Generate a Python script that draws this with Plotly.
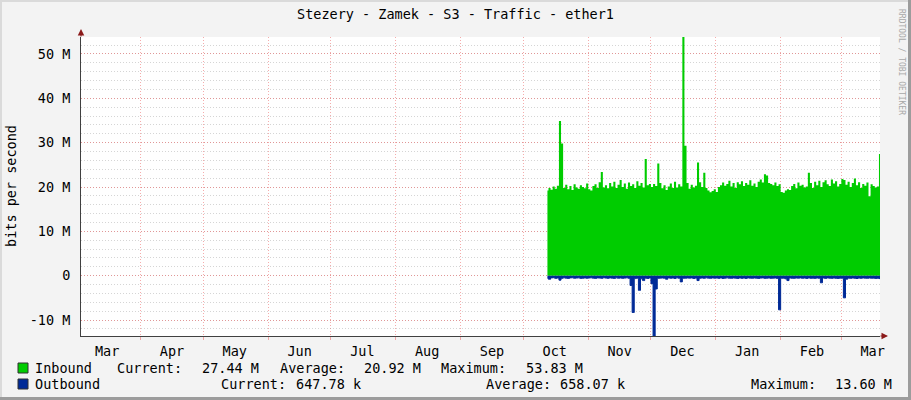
import plotly.graph_objects as go
import pandas as pd

# ---------------- data (values in Mbit/s, one per day from 2019-10-12) ----------------
start_date = "2019-10-12 12:00"

inbound = [
    # Oct 12-31
    19.2, 19.8, 19.4, 20.1, 19.6, 20.3, 34.9, 29.8, 19.8, 20.5, 19.5, 20.2, 19.3, 20.6, 19.9, 19.6, 20.4, 20.0, 19.7, 20.8,
    # Nov
    19.5, 19.2, 20.2, 20.6, 19.8, 21.1, 23.4, 19.9, 20.4, 19.7, 20.9, 20.1, 21.2, 19.8, 20.5, 21.6, 20.0, 20.8, 19.6, 21.0,
    20.2, 20.6, 19.8, 21.3, 20.3, 20.9, 19.9, 26.3, 20.4, 20.7,
    # Dec
    20.0, 20.7, 20.2, 25.3, 20.9, 19.7, 20.4, 19.3, 20.1, 20.8, 19.8, 21.2, 19.9, 20.6, 20.1, 53.83, 29.3, 20.9, 19.6, 20.5,
    19.9, 20.3, 25.5, 21.1, 20.0, 23.2, 19.8, 19.2, 18.8, 19.1, 19.5,
    # Jan
    18.9, 20.0, 20.4, 21.0, 20.3, 20.7, 21.4, 20.1, 20.9, 19.8, 21.1, 20.6, 21.3, 20.2, 20.9, 20.5, 21.5, 20.3, 20.8, 20.0,
    21.2, 21.7, 21.0, 22.9, 22.6, 20.9, 20.7, 20.4, 21.0, 20.2, 20.6,
    # Feb
    18.9, 18.7, 19.2, 19.5, 19.3, 20.2, 20.7, 19.7, 21.0, 20.3, 20.5, 19.9, 20.1, 23.2, 20.9, 19.8, 21.2, 20.4, 21.4, 20.0,
    21.1, 21.5, 20.6, 20.2, 21.7, 20.8, 21.3, 20.1, 20.7,
    # Mar 1-19
    21.8, 21.6, 20.5, 21.2, 20.0, 20.9, 21.9, 20.4, 21.1, 19.8, 20.7, 20.3, 21.0, 17.9, 20.6, 20.2, 19.9, 20.1, 27.44,
]

outbound = [
    # Oct 12-31
    0.55, 0.80, 0.50, 0.45, 0.60, 0.52, 1.00, 0.58, 0.48, 0.55, 0.62, 0.50, 0.47, 0.58, 0.53, 0.49, 0.60, 0.55, 0.51, 0.57,
    # Nov
    0.52, 0.48, 0.56, 0.61, 0.50, 0.54, 0.59, 0.47, 0.53, 0.58, 0.50, 0.55, 0.62, 0.49, 0.57, 0.52, 0.60, 0.54, 0.48, 0.56,
    2.20, 8.30, 0.65, 0.58, 3.30, 0.70, 1.10, 0.55, 0.62, 0.50,
    # Dec
    1.80, 13.60, 3.00, 0.60, 0.55, 0.52, 0.58, 0.80, 0.50, 0.57, 0.53, 0.61, 0.49, 0.56, 1.40, 0.60, 0.58, 0.52, 0.55, 0.50,
    0.63, 0.54, 1.10, 0.57, 0.52, 0.59, 0.48, 0.55, 0.60, 0.51, 0.56,
    # Jan
    0.53, 0.58, 0.50, 0.62, 0.55, 0.49, 0.57, 0.60, 0.52, 0.56, 0.64, 0.51, 0.58, 0.53, 0.61, 0.50, 0.55, 0.59, 0.52, 0.57,
    0.63, 0.54, 0.50, 0.58, 0.55, 0.52, 0.60, 0.56, 0.53, 0.62, 7.70,
    # Feb
    0.58, 0.55, 0.70, 1.10, 0.52, 0.57, 0.60, 0.53, 0.56, 0.50, 0.59, 0.54, 0.62, 0.51, 0.57, 0.55, 0.60, 0.52, 0.58, 1.60,
    0.54, 0.61, 0.50, 0.56, 0.59, 0.53, 0.57, 0.62, 0.55,
    # Mar 1-19
    0.58, 5.00, 0.80, 0.55, 0.60, 0.52, 0.57, 0.63, 0.54, 0.59, 0.51, 0.56, 0.60, 0.53, 0.58, 0.55, 0.62, 0.57, 0.648,
]

month_labels = ["Mar", "Apr", "May", "Jun", "Jul", "Aug", "Sep", "Oct", "Nov", "Dec", "Jan", "Feb", "Mar"]
month_label_pos = ["2019-03-16", "2019-04-16", "2019-05-16", "2019-06-16", "2019-07-16", "2019-08-16",
                   "2019-09-16", "2019-10-16", "2019-11-16", "2019-12-16", "2020-01-16", "2020-02-16", "2020-03-16"]
month_starts = ["2019-04-01", "2019-05-01", "2019-06-01", "2019-07-01", "2019-08-01", "2019-09-01",
                "2019-10-01", "2019-11-01", "2019-12-01", "2020-01-01", "2020-02-01", "2020-03-01"]
y_tick_vals = [-10e6, 0, 10e6, 20e6, 30e6, 40e6, 50e6]
y_tick_text = ["-10 M", "0", "10 M", "20 M", "30 M", "40 M", "50 M"]

title = "Stezery - Zamek - S3 - Traffic - ether1"
legend_in_labels = ["Inbound", "Current:", "Average:", "Maximum:"]
legend_in_values = ["27.44 M", "20.92 M", "53.83 M"]
legend_out_labels = ["Outbound", "Current:", "Average:", "Maximum:"]
legend_out_values = ["647.78 k", "658.07 k", "13.60 M"]

assert len(inbound) == len(outbound) == 160
dates = pd.date_range(start_date, periods=len(inbound), freq="D")

# ---------------- layout geometry ----------------
W, H = 911, 400
L, R, T, B = 81, 880, 37, 336
FONT = "DejaVu Sans Mono"
GREEN = "#00CC00"
BLUE = "#002A97"


def px(x):
    return (x - L) / (R - L)


def py(y):
    return (B - y) / (B - T)


fig = go.Figure()
fig.add_trace(go.Scatter(
    x=dates, y=[v * 1e6 for v in inbound], mode="lines",
    line=dict(shape="hvh", width=0, color=GREEN),
    fill="tozeroy", fillcolor=GREEN, hoverinfo="skip", showlegend=False))
fig.add_trace(go.Scatter(
    x=dates, y=[-v * 1e6 for v in outbound], mode="lines",
    line=dict(shape="hvh", width=1, color=BLUE),
    fill="tozeroy", fillcolor=BLUE, hoverinfo="skip", showlegend=False))

MAJ = "rgba(235,90,90,0.5)"
MIN = "rgba(150,150,150,0.4)"
DASH = "1px,2px"

fig.update_layout(
    width=W, height=H,
    margin=dict(l=L, r=W - R, t=T, b=H - B, pad=0, autoexpand=False),
    paper_bgcolor="#F3F3F3", plot_bgcolor="#FFFFFF",
    font=dict(family=FONT, size=13, color="#000000"),
    title=dict(text=title, x=0.5, xref="container", xanchor="center",
               y=1 - 14 / H, yref="container", yanchor="middle",
               font=dict(family=FONT, size=13.5, color="#000000")),
    xaxis=dict(
        type="date", range=["2019-03-03 12:00", "2020-03-19 12:00"],
        tickmode="array", tickvals=month_label_pos, ticktext=month_labels,
        showgrid=False, zeroline=False,
        ticks="outside", ticklen=3, tickcolor="rgba(0,0,0,0)",
        tickfont=dict(family=FONT, size=13.5),
        showline=True, linecolor="#404040", linewidth=1,
        minor=dict(tickvals=month_starts, showgrid=True, gridcolor=MAJ, griddash=DASH,
                   gridwidth=1, ticks="outside", ticklen=3, tickcolor=MAJ),
    ),
    yaxis=dict(
        range=[-13.60e6, 53.83e6],
        tickmode="array", tickvals=y_tick_vals, ticktext=y_tick_text,
        showgrid=True, gridcolor=MAJ, griddash=DASH, gridwidth=1,
        zeroline=False,
        ticks="outside", ticklen=7, tickcolor="rgba(0,0,0,0)",
        tickfont=dict(family=FONT, size=13.5),
        showline=True, linecolor="#404040", linewidth=1,
        minor=dict(dtick=2e6, tick0=0, showgrid=True, gridcolor=MIN, griddash=DASH, gridwidth=1),
    ),
)

shapes = [
    # frame
    dict(type="rect", xref="paper", yref="paper", x0=px(0), x1=px(W), y0=py(0), y1=py(2),
         fillcolor="#DADADA", line=dict(width=0), layer="below"),
    dict(type="rect", xref="paper", yref="paper", x0=px(0), x1=px(2), y0=py(0), y1=py(H),
         fillcolor="#DADADA", line=dict(width=0), layer="below"),
    dict(type="rect", xref="paper", yref="paper", x0=px(0), x1=px(W), y0=py(397), y1=py(H),
         fillcolor="#9C9C9C", line=dict(width=0), layer="below"),
    dict(type="rect", xref="paper", yref="paper", x0=px(908), x1=px(W), y0=py(0), y1=py(H),
         fillcolor="#9C9C9C", line=dict(width=0), layer="below"),
    # legend swatches
    dict(type="rect", xref="paper", yref="paper", x0=px(18), x1=px(28), y0=py(363), y1=py(373),
         fillcolor=GREEN, line=dict(width=1, color="#303030")),
    dict(type="rect", xref="paper", yref="paper", x0=px(18), x1=px(28), y0=py(379), y1=py(389),
         fillcolor=BLUE, line=dict(width=1, color="#303030")),
]
fig.update_layout(shapes=shapes)


def text_ann(txt, x, y, anchor):
    return dict(text=txt, x=px(x), y=py(y), xref="paper", yref="paper",
                xanchor=anchor, yanchor="middle", showarrow=False, borderpad=0,
                font=dict(family=FONT, size=13.5, color="#000000"))


ann = []
for txt, x in zip(legend_in_labels, [34, 116, 279, 440]):
    ann.append(text_ann(txt, x, 368, "left"))
for txt, x in zip(legend_in_values, [260, 422, 584]):
    ann.append(text_ann(txt, x, 368, "right"))
for txt, x in zip(legend_out_labels, [34, 219.6, 485, 749.6]):
    ann.append(text_ann(txt, x, 384, "left"))
for txt, x in zip(legend_out_values, [362, 626, 893]):
    ann.append(text_ann(txt, x, 384, "right"))
# y axis title
ann.append(dict(text="bits per second", x=px(11), y=py(186), xref="paper", yref="paper",
                xanchor="center", yanchor="middle", textangle=-90, showarrow=False,
                font=dict(family=FONT, size=13.5, color="#000000")))
# credit
ann.append(dict(text="RRDTOOL / TOBI OETIKER", x=px(902), y=py(62), xref="paper", yref="paper",
                xanchor="center", yanchor="middle", textangle=90, showarrow=False,
                font=dict(family=FONT, size=8, color="#A8A8A8")))
# axis arrows
ann.append(dict(text="", x=px(81), y=py(29), xref="paper", yref="paper", showarrow=True,
                ax=0, ay=9, arrowhead=2, arrowsize=1.3, arrowwidth=1, arrowcolor="#8B1A1A"))
ann.append(dict(text="", x=px(888), y=py(336), xref="paper", yref="paper", showarrow=True,
                ax=-9, ay=0, arrowhead=2, arrowsize=1.3, arrowwidth=1, arrowcolor="#8B1A1A"))
fig.update_layout(annotations=ann)

fig.write_html("out.html", config={"displayModeBar": False},
               post_script="document.body.style.margin='0';document.body.style.overflow='hidden';")
